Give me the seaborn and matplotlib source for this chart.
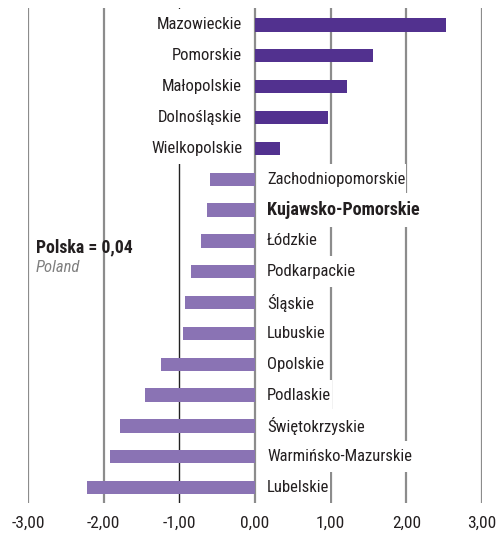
import matplotlib
matplotlib.use("Agg")
import matplotlib.pyplot as plt
from matplotlib.path import Path
import seaborn as sns
import pandas as pd

regions = ["Mazowieckie", "Pomorskie", "Małopolskie", "Dolnośląskie", "Wielkopolskie",
           "Zachodniopomorskie", "Kujawsko-Pomorskie", "Łódzkie", "Podkarpackie", "Śląskie",
           "Lubuskie", "Opolskie", "Podlaskie", "Świętokrzyskie", "Warmińsko-Mazurskie", "Lubelskie"]
values = [2.52, 1.56, 1.22, 0.97, 0.33,
          -0.59, -0.63, -0.72, -0.84, -0.93,
          -0.95, -1.24, -1.45, -1.78, -1.91, -2.22]
ticks = [-3, -2, -1, 0, 1, 2, 3]
tick_labels = ["-3,00", "-2,00", "-1,00", "0,00", "1,00", "2,00", "3,00"]
highlight = "Kujawsko-Pomorskie"
national_label = "Polska = 0,04"
national_sub = "Poland"

FONT = ["Roboto Condensed", "Roboto", "DejaVu Sans"]
sns.set_theme(style="white")
plt.rcParams["font.family"] = FONT

df = pd.DataFrame({"region": regions, "value": values})
df["sign"] = ["pos" if v > 0 else "neg" for v in values]


def tallbox(x0, y0, width, height, mutation_size):
    padx, pady = 1.0, 8.0
    return Path([(x0 - padx, y0 - pady), (x0 + width + padx, y0 - pady),
                 (x0 + width + padx, y0 + height + pady), (x0 - padx, y0 + height + pady),
                 (x0 - padx, y0 - pady)], closed=True)


fig = plt.figure(figsize=(5.0, 5.34), dpi=100)
ax = fig.add_axes([0.056, 0.058, 0.908, 0.927])

for t in ticks:
    if t == -1:
        ax.axvline(t, color="#222222", lw=1.0, zorder=0)
    else:
        ax.axvline(t, color="#8c8c8c", lw=1.6, zorder=0)

sns.barplot(data=df, x="value", y="region", hue="sign", orient="h",
            palette={"pos": "#52318F", "neg": "#8A73B4"}, dodge=False,
            width=0.43, legend=False, ax=ax, zorder=2, saturation=1,
            linewidth=0)

FS = 12
for i, (r, v) in enumerate(zip(regions, values)):
    bold = r == highlight
    kw = dict(va="center", fontsize=13 if bold else FS, color="#231f20",
              fontweight="bold" if bold else "normal", zorder=3,
              bbox=dict(facecolor="white", edgecolor="none", boxstyle=tallbox))
    if v > 0:
        ax.text(-0.17, i, r, ha="right", **kw)
    else:
        ax.text(0.16, i, r, ha="left", **kw)

ax.text(-2.9, 7.2, national_label, ha="left", va="center", fontsize=12.8,
        fontweight="bold", color="#231f20", zorder=3)
ax.text(-2.9, 7.85, national_sub, ha="left", va="center", fontsize=FS,
        style="italic", color="#808080", zorder=3)

ax.set_xlim(-3, 3)
ax.set_ylim(15.5, -0.55)
ax.set_xticks(ticks)
ax.set_xticklabels(tick_labels, fontsize=12.5, color="#231f20")
ax.set_yticks([])
ax.set_xlabel("")
ax.set_ylabel("")
ax.tick_params(axis="x", length=0, pad=9)
for s in ax.spines.values():
    s.set_visible(False)
ax.grid(False)

fig.savefig("out.png", dpi=100)
